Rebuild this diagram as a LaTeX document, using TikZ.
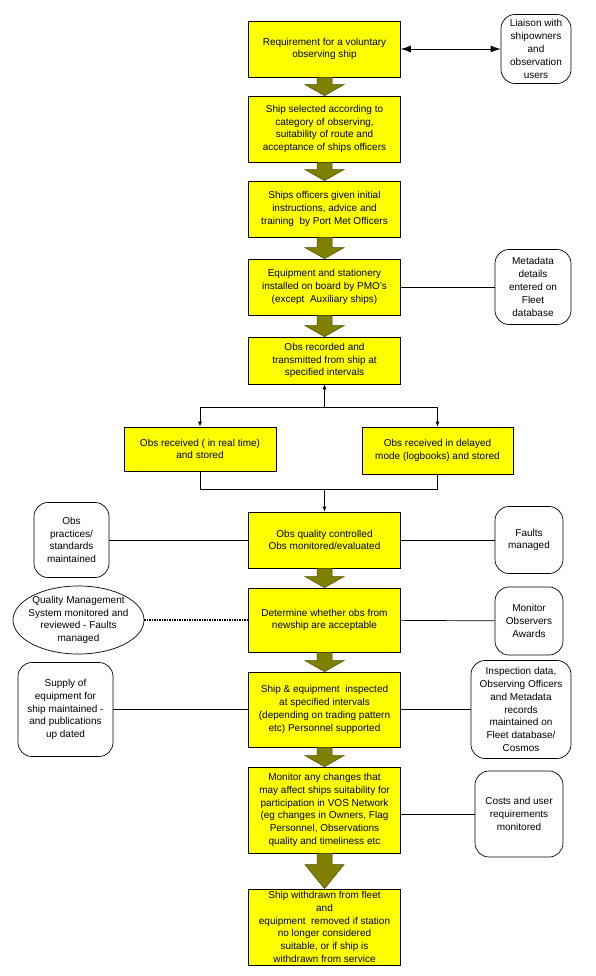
\documentclass[tikz,border=0pt]{standalone}
\usepackage{fontspec}
\setmainfont{Liberation Sans}
\usetikzlibrary{positioning,calc,arrows.meta,shapes.geometric}

\definecolor{boxyellow}{RGB}{255,255,0}
\definecolor{arrowolive}{RGB}{128,128,0}

% thick block arrow from one stage down to the next
\newcommand{\fatarrow}[3][11pt]{%
  \filldraw[fill=arrowolive, draw=arrowolive!60!black, line width=0.5pt]
    let \p1=(#2.south), \p2=(#3.north) in
    (\x1-7.5pt,\y1) -- (\x1-7.5pt,\y2+#1) -- (\x1-19.5pt,\y2+#1) -- (\x1,\y2)
    -- (\x1+19.5pt,\y2+#1) -- (\x1+7.5pt,\y2+#1) -- (\x1+7.5pt,\y1) -- cycle;}

\begin{document}
\begin{tikzpicture}[
        x = 1pt, y = 1pt, % pixel units
        > = {Latex[length=5pt,width=4pt]}, % arrow head style
        line width = 0.7pt,
        font = \fontsize{10pt}{12.8pt}\selectfont
      ]

      \tikzstyle{stage}=[rectangle,draw=black,fill=boxyellow,align=center,minimum width=152pt,inner sep=2pt]
      \tikzstyle{note}=[rectangle,rounded corners=14pt,draw=black,fill=white,align=center,inner sep=2pt]
      \tikzstyle{remark}=[ellipse,draw=black,fill=white,align=center,inner xsep=-8pt,inner ysep=-6pt]

      \useasboundingbox (0,0) rectangle (596,-976);
      \fill[white] (0,0) rectangle (596,-976);

      \node[stage, minimum height=56pt] (req) at (324.5,-49) {Requirement for a voluntary\\observing ship};
      \node[stage, minimum height=66pt] (select) [below of=req, node distance=80pt] {Ship selected according to\\category of observing,\\suitability of route and\\acceptance of ships officers};
      \node[stage, minimum height=56pt] (brief) [below of=select, node distance=80pt] {Ships officers given initial\\instructions, advice and\\training\ \ by Port Met Officers};
      \node[stage, minimum height=56pt] (equip) [below of=brief, node distance=78pt] {Equipment and stationery\\installed on board by PMO's\\(except\ \ Auxiliary ships)};
      \node[stage, minimum height=47pt] (obsrec) [below of=equip, node distance=73.5pt] {Obs recorded and\\transmitted from ship at\\specified intervals};
      \node[stage, minimum height=44pt] (rtime) at (200,-449) {Obs received ( in real time)\\and stored};
      \node[stage, minimum height=47pt, minimum width=151pt] (delayed) at (437.5,-450.5) {Obs received in delayed\\mode (logbooks) and stored};
      \node[stage, minimum height=56pt] (qc) [below of=obsrec, node distance=179.5pt] {Obs quality controlled\\Obs monitored/evaluated};
      \node[stage, minimum height=64pt] (accept) [below of=qc, node distance=80pt] {Determine whether obs from\\newship are acceptable};
      \node[stage, minimum height=75pt] (inspect) [below of=accept, node distance=89.5pt] {Ship \& equipment\ \ inspected\\at specified intervals\\(depending on trading pattern\\etc) Personnel supported};
      \node[stage, minimum height=86pt] (changes) [below of=inspect, node distance=100.5pt] {Monitor any changes that\\may affect ships suitability for\\participation in VOS Network\\(eg changes in Owners, Flag\\Personnel, Observations\\quality and timeliness etc};
      \node[stage, minimum height=76pt] (withdraw) [below of=changes, node distance=117pt] {Ship withdrawn from fleet\\and\\equipment\ \ removed if station\\no longer considered\\suitable, or if ship is\\withdrawn from service};

      \node[note, minimum width=70pt, minimum height=69pt] (liaison) [right of=req, node distance=211.5pt] {Liaison with\\shipowners\\and\\observation\\users};
      \node[note, minimum width=76pt, minimum height=75pt] (meta) [right of=equip, node distance=208.5pt] {Metadata\\details\\entered on\\Fleet\\database};
      \node[note, minimum width=75pt, minimum height=75pt] (practices) [left of=qc, node distance=253pt] {Obs\\practices/\\standards\\maintained};
      \node[note, minimum width=68pt, minimum height=67pt] (faults) [right of=qc, node distance=204.5pt] {Faults\\managed};
      \node[remark, minimum width=131pt, minimum height=68pt] (qms) [left of=accept, node distance=246pt] {Quality Management\\System monitored and\\reviewed - Faults\\managed};
      \node[note, minimum width=68pt, minimum height=68pt, yshift=-1pt] (awards) [right of=accept, node distance=204.5pt] {Monitor\\Observers\\Awards};
      \node[note, minimum width=95pt, minimum height=94pt] (supply) [left of=inspect, node distance=259pt] {Supply of\\equipment for\\ship maintained -\\and publications\\up dated};
      \node[note, minimum width=100pt, minimum height=98pt] (records) [right of=inspect, node distance=196.5pt] {Inspection data,\\Observing Officers\\and Metadata\\records\\maintained on\\Fleet database/\\Cosmos};
      \node[note, minimum width=88pt, minimum height=86pt, yshift=-4pt] (costs) [right of=changes, node distance=194.5pt] {Costs and user\\requirements\\monitored};

      \fatarrow{req}{select}
      \fatarrow{select}{brief}
      \fatarrow{brief}{equip}
      \fatarrow{equip}{obsrec}
      \fatarrow{qc}{accept}
      \fatarrow{accept}{inspect}
      \fatarrow{inspect}{changes}
      \fatarrow[24pt]{changes}{withdraw}

      \draw[{Latex[length=10pt,width=7pt]}-{Latex[length=10pt,width=7pt]}] (req.east) -- (req.east -| liaison.west);

      \path (obsrec.south) ++(0,-23) coordinate (split);
      \path (qc.north) ++(0,22) coordinate (merge);
      \draw[->] (split) -- (obsrec);
      \draw (split -| rtime) -- (split -| delayed);
      \draw[->] (split -| rtime) -- (rtime);
      \draw[->] (split -| delayed) -- (delayed);
      \draw (rtime) |- (merge) -| (delayed);
      \draw[->] (merge) -- (qc);

      \draw (equip) -- (meta);
      \draw (practices) -- (qc);
      \draw (qc) -- (faults);
      \draw[densely dotted, line width=1.5pt] (qms) -- (accept);
      \draw (accept) -- (awards);
      \draw (supply) -- (inspect);
      \draw (inspect) -- (records);
      \draw (costs.west) -- (costs.west -| changes.east);

    \end{tikzpicture}
\end{document}
